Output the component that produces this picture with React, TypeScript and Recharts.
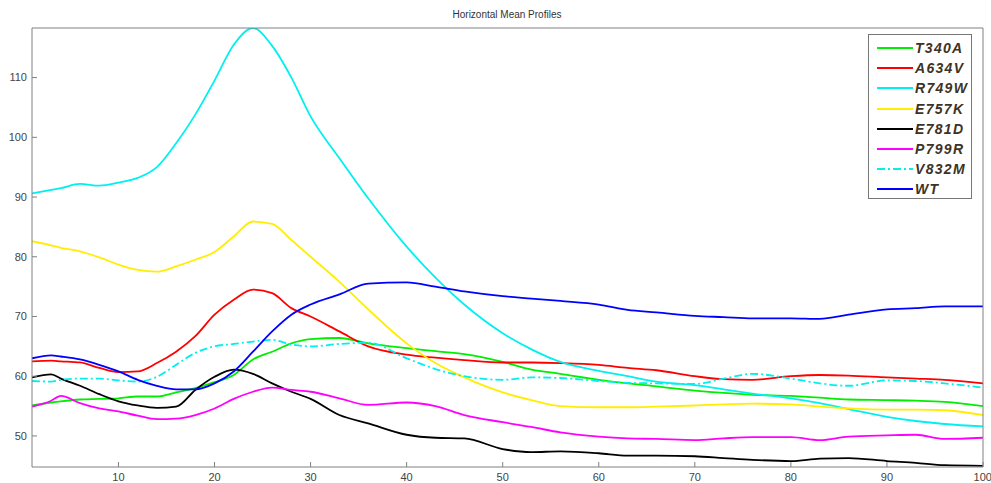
import { LineChart, Line, XAxis, YAxis } from 'recharts';

// position along the profile (shared by every series)
const xs = [1, 3, 4, 6, 8, 10, 12, 14, 16, 18, 20, 22, 24, 26, 28, 30, 33, 36, 40, 43, 46, 50, 53, 56, 60, 63, 66, 70, 73, 76, 80, 83, 86, 90, 93, 96, 100];

const t340a = [55.1, 55.6, 55.8, 56.1, 56.2, 56.3, 56.6, 56.6, 57.3, 58.0, 59.0, 60.2, 62.8, 64.1, 65.5, 66.2, 66.4, 65.5, 64.7, 64.2, 63.7, 62.4, 61.1, 60.4, 59.4, 58.8, 58.3, 57.6, 57.2, 56.9, 56.7, 56.4, 56.1, 56.0, 55.9, 55.7, 55.0];
const a634v = [62.5, 62.6, 62.5, 62.3, 61.4, 60.7, 60.8, 62.2, 64.1, 66.7, 70.3, 72.8, 74.5, 73.9, 71.4, 70.0, 67.5, 65.0, 63.6, 63.1, 62.7, 62.3, 62.3, 62.2, 61.9, 61.4, 61.0, 60.0, 59.5, 59.4, 60.0, 60.2, 60.1, 59.8, 59.6, 59.4, 58.8];
const r749w = [90.6, 91.2, 91.5, 92.2, 91.9, 92.4, 93.2, 95.0, 99.0, 103.8, 109.5, 115.5, 118.3, 115.3, 110.0, 103.5, 96.5, 89.8, 81.7, 76.5, 72.0, 67.2, 64.5, 62.4, 60.9, 60.0, 59.1, 58.5, 57.8, 57.1, 56.3, 55.5, 54.5, 53.2, 52.5, 52.0, 51.6];
const e757k = [82.6, 81.9, 81.5, 80.9, 79.9, 78.7, 77.8, 77.5, 78.4, 79.5, 80.8, 83.4, 85.9, 85.5, 82.8, 80.0, 75.8, 71.2, 65.5, 62.2, 59.8, 57.3, 56.0, 55.0, 54.8, 54.8, 54.9, 55.1, 55.3, 55.4, 55.3, 54.9, 54.6, 54.4, 54.4, 54.3, 53.5];
const e781d = [59.8, 60.3, 59.6, 58.4, 57.0, 55.8, 55.1, 54.7, 54.9, 57.7, 59.9, 61.1, 60.4, 58.8, 57.4, 56.2, 53.5, 52.1, 50.2, 49.7, 49.6, 47.8, 47.3, 47.4, 47.1, 46.7, 46.7, 46.6, 46.3, 46.0, 45.8, 46.2, 46.3, 45.8, 45.5, 45.1, 45.0];
const p799r = [54.9, 55.9, 56.7, 55.5, 54.6, 54.1, 53.4, 52.8, 52.9, 53.5, 54.6, 56.2, 57.4, 58.1, 57.7, 57.4, 56.3, 55.2, 55.6, 55.0, 53.5, 52.3, 51.5, 50.6, 49.9, 49.6, 49.5, 49.3, 49.6, 49.8, 49.8, 49.3, 49.9, 50.1, 50.2, 49.5, 49.7];
const v832m = [59.2, 59.1, 59.4, 59.6, 59.6, 59.3, 59.1, 59.9, 61.9, 63.9, 65.0, 65.4, 65.8, 66.1, 65.3, 65.0, 65.4, 65.6, 63.0, 61.2, 60.0, 59.4, 59.8, 59.7, 59.2, 58.9, 58.8, 58.7, 59.6, 60.4, 59.6, 58.8, 58.4, 59.3, 59.2, 58.8, 58.1];
const wt = [63.0, 63.5, 63.3, 62.8, 61.9, 60.8, 59.4, 58.4, 57.8, 57.8, 58.8, 60.8, 64.1, 67.5, 70.3, 72.0, 73.7, 75.5, 75.7, 75.0, 74.2, 73.4, 73.0, 72.6, 72.0, 71.1, 70.7, 70.1, 69.9, 69.7, 69.7, 69.6, 70.3, 71.2, 71.4, 71.7, 71.7];

const xTicks = [10, 20, 30, 40, 50, 60, 70, 80, 90, 100];
const yTicks = [50, 60, 70, 80, 90, 100, 110];

const series = [
  { name: 'T340A', values: t340a, color: '#00ee00', dash: undefined },
  { name: 'A634V', values: a634v, color: '#ff0000', dash: undefined },
  { name: 'R749W', values: r749w, color: '#00f0f0', dash: undefined },
  { name: 'E757K', values: e757k, color: '#ffee00', dash: undefined },
  { name: 'E781D', values: e781d, color: '#000000', dash: undefined },
  { name: 'P799R', values: p799r, color: '#ff00ff', dash: undefined },
  { name: 'V832M', values: v832m, color: '#00f0f0', dash: '8 3 2 3' },
  { name: 'WT', values: wt, color: '#0000ff', dash: undefined },
];

const data = xs.map((x, i) => {
  const row: Record<string, number> = { x };
  series.forEach((s) => {
    row[s.name] = s.values[i];
  });
  return row;
});

const axisColor = '#808080';
const tickStyle = { fill: '#444', fontSize: 11, fontFamily: 'Liberation Sans, Arial, sans-serif' };

export default function App() {
  return (
    <div style={{ position: 'absolute', left: 0, top: 0, width: 991, height: 483, background: '#fff' }}>
      <div
        style={{
          position: 'absolute',
          left: 0,
          width: 1014,
          top: 9,
          textAlign: 'center',
          fontSize: 10,
          color: '#333',
          fontFamily: 'Liberation Sans, Arial, sans-serif',
        }}
      >
        Horizontal Mean Profiles
      </div>
      <LineChart width={991} height={483} data={data} margin={{ top: 28, right: 8, bottom: 0, left: 2 }}>
        <XAxis
          dataKey="x"
          type="number"
          domain={[1, 100]}
          ticks={xTicks}
          allowDataOverflow
          height={16}
          stroke={axisColor}
          tickSize={-5}
          tickMargin={11}
          tick={tickStyle}
        />
        <XAxis
          xAxisId="top"
          dataKey="x"
          type="number"
          orientation="top"
          mirror
          domain={[1, 100]}
          ticks={xTicks}
          height={1}
          stroke={axisColor}
          tick={false}
        />
        <YAxis
          type="number"
          domain={[44.8, 118.3]}
          ticks={yTicks}
          allowDataOverflow
          width={30}
          stroke={axisColor}
          tickSize={-5}
          tickMargin={10}
          tick={tickStyle}
        />
        <YAxis
          yAxisId="right"
          type="number"
          orientation="right"
          mirror
          domain={[44.8, 118.3]}
          ticks={yTicks}
          width={1}
          stroke={axisColor}
          tick={false}
        />
        {series.map((s) => (
          <Line
            key={s.name}
            dataKey={s.name}
            type="monotone"
            stroke={s.color}
            strokeWidth={1.8}
            strokeDasharray={s.dash}
            dot={false}
            isAnimationActive={false}
          />
        ))}
      </LineChart>
      <div
        style={{
          position: 'absolute',
          left: 868,
          top: 34,
          width: 104,
          height: 165,
          border: '1px solid #777',
          background: '#fff',
          boxSizing: 'border-box',
          paddingTop: 3,
        }}
      >
        {series.map((s) => (
          <div key={s.name} style={{ display: 'flex', alignItems: 'center', height: 20.2 }}>
            <svg width={46} height={6}>
              <line x1={8} x2={44} y1={3} y2={3} stroke={s.color} strokeWidth={2} strokeDasharray={s.dash} />
            </svg>
            <span
              style={{
                fontFamily: 'Liberation Sans, Arial, sans-serif',
                fontStyle: 'italic',
                fontWeight: 'bold',
                fontSize: 14,
                letterSpacing: 1.3,
                color: '#3d3324',
              }}
            >
              {s.name}
            </span>
          </div>
        ))}
      </div>
    </div>
  );
}
